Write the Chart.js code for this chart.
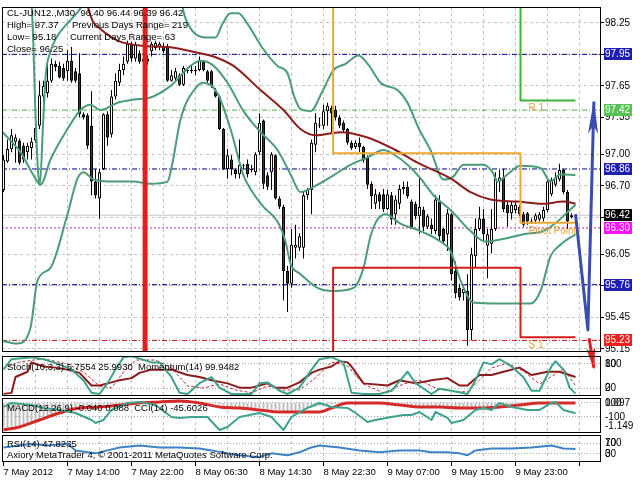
<!DOCTYPE html>
<html>
<head>
<meta charset="utf-8">
<script src="https://cdn.jsdelivr.net/npm/chart.js@4.4.1/dist/chart.umd.min.js"></script>
<style>
html,body{margin:0;padding:0;background:#fff;}
body{width:640px;height:480px;position:relative;overflow:hidden;}
canvas{position:absolute;left:0;}
</style>
</head>
<body>
<canvas id="cMain" width="640" height="372" style="top:0px"></canvas>
<canvas id="cStoch" width="640" height="44" style="top:354px"></canvas>
<canvas id="cMacd" width="640" height="40" style="top:396px"></canvas>
<canvas id="cRsi" width="640" height="47" style="top:433px"></canvas>
<script>
// ---------------- DATA ----------------
const dateLabels = ['7 May 2012','7 May 14:00','7 May 22:00','8 May 06:30','8 May 14:30','8 May 22:30','9 May 07:00','9 May 15:00','9 May 23:00'];
const priceTicks = [98.25, 97.95, 97.65, 97.35, 97.00, 96.70, 96.40, 96.05, 95.75, 95.45, 95.15];

const openP = [96.66,96.93,97.05,97.12,97.13,97.08,97.02,97.06,97.13,97.27,
97.55,97.58,97.70,97.86,97.84,97.82,97.79,97.89,97.79,97.77,
97.38,97.37,97.27,96.74,96.58,96.86,97.38,97.19,97.55,97.68,
97.80,97.88,98.05,97.91,97.96,97.91,97.91,97.98,98.01,98.02,
98.03,98.03,97.70,97.72,97.75,97.66,97.80,97.79,97.80,97.80,
97.88,97.79,97.79,97.60,97.55,97.24,96.86,96.95,96.85,96.81,
96.90,96.91,96.86,96.83,97.02,97.32,96.80,96.83,96.99,96.58,
96.50,95.89,95.77,96.11,96.11,96.11,96.61,96.66,97.09,97.28,
97.27,97.41,97.44,97.42,97.35,97.30,97.24,97.11,97.07,97.11,
97.07,96.97,96.72,96.53,96.62,96.62,96.48,96.61,96.43,96.53,
96.67,96.69,96.55,96.53,96.41,96.47,96.31,96.33,96.27,96.55,
96.29,96.24,96.43,95.89,95.73,95.68,95.70,95.33,96.03,96.29,
96.39,96.13,96.15,96.29,96.74,96.78,96.52,96.44,96.47,96.50,
96.43,96.44,96.37,96.37,96.38,96.39,96.47,96.62,96.71,96.76,
96.85,96.64,96.40];
const highP = [96.99,97.14,97.24,97.19,97.15,97.11,97.11,97.16,97.30,97.70,
97.70,97.86,97.91,97.89,97.88,97.86,97.99,98.02,97.82,97.96,
97.40,97.39,97.60,96.86,96.86,97.39,97.41,97.61,97.77,97.86,
97.93,98.08,98.07,98.07,97.99,97.96,97.94,98.07,98.08,98.07,
98.06,98.05,97.80,97.82,97.77,97.84,97.82,97.84,97.84,97.93,
97.89,97.80,97.80,97.63,97.56,97.25,97.05,96.99,96.86,97.14,
96.91,96.95,96.90,97.02,97.39,97.33,96.83,97.02,97.00,96.60,
96.52,95.94,96.29,96.33,96.25,96.64,96.68,97.14,97.39,97.35,
97.47,97.49,97.46,97.46,97.37,97.32,97.25,97.13,97.13,97.16,
97.08,96.99,96.74,96.67,96.64,96.67,96.66,96.64,96.61,96.71,
96.74,96.74,96.57,96.55,96.78,96.50,96.43,96.39,96.61,96.61,
96.30,96.48,96.44,95.98,95.77,95.73,95.86,96.11,96.39,96.50,
96.48,96.29,96.48,96.83,96.85,96.86,96.55,96.55,96.55,96.52,
96.45,96.45,96.39,96.44,96.45,96.50,96.77,96.78,96.83,96.91,
96.86,96.66,96.44];
const lowP = [96.64,96.92,97.02,96.92,96.90,96.92,96.95,96.95,97.11,97.24,
97.49,97.54,97.68,97.79,97.72,97.70,97.70,97.68,97.68,97.35,
97.33,97.05,96.61,96.58,96.39,96.85,97.08,97.16,97.52,97.65,
97.75,97.86,97.88,97.88,97.86,97.86,97.85,97.93,97.99,97.99,
97.96,97.69,97.69,97.70,97.65,97.65,97.77,97.77,97.75,97.79,
97.79,97.68,97.63,97.54,97.23,96.85,96.77,96.80,96.77,96.77,
96.86,96.78,96.83,96.80,96.99,96.67,96.66,96.66,96.57,96.48,
95.61,95.50,95.73,96.01,96.08,96.01,96.57,96.43,97.02,97.25,
97.24,97.27,97.21,97.32,97.25,97.21,97.09,97.04,97.05,97.02,
96.92,96.67,96.48,96.48,96.48,96.45,96.47,96.33,96.33,96.48,
96.62,96.58,96.29,96.38,96.24,96.27,96.29,96.24,96.24,96.17,
96.15,96.08,95.80,95.63,95.61,95.61,95.18,95.23,95.92,96.27,
96.17,95.82,96.06,96.27,96.64,96.45,96.31,96.38,96.44,96.41,
96.31,96.33,96.34,96.34,96.36,96.36,96.45,96.60,96.69,96.74,
96.62,96.29,96.39];
const closeP = [96.95,97.05,97.18,97.16,96.92,96.95,97.08,97.12,97.25,97.56,
97.65,97.70,97.86,97.83,97.73,97.72,97.89,97.70,97.70,97.38,
97.35,97.08,96.74,96.61,96.83,97.38,97.16,97.55,97.70,97.80,
97.86,98.05,97.91,98.05,97.88,97.88,97.88,98.05,98.06,98.05,
97.98,97.70,97.75,97.79,97.66,97.82,97.79,97.80,97.79,97.89,
97.80,97.70,97.65,97.55,97.24,96.86,96.99,96.86,96.81,96.90,
96.89,96.81,96.85,97.00,97.30,96.72,96.69,97.00,96.58,96.50,
95.89,95.77,96.14,96.14,96.22,96.61,96.66,97.11,97.30,97.27,
97.41,97.46,97.39,97.35,97.27,97.23,97.11,97.06,97.11,97.07,
96.94,96.71,96.60,96.62,96.55,96.48,96.62,96.38,96.57,96.67,
96.69,96.60,96.29,96.41,96.50,96.31,96.41,96.29,96.57,96.22,
96.17,96.44,95.86,95.68,95.64,95.72,95.33,96.05,96.29,96.39,
96.24,96.24,96.29,96.77,96.78,96.48,96.44,96.52,96.52,96.43,
96.33,96.36,96.36,96.42,96.43,96.47,96.74,96.76,96.78,96.85,
96.64,96.36,96.42];

const upIdx = [6.9,7.4,7.9,8.6,9.1,9.9,10.6,11.6,13.4,15.4,17.1,19.1,20.6,32,44.25,45.25,47.25,50.5,53,54.75,56.75,58.75,61,64.75,68.5,71,72.75,74.25,76.75,79.75,82.5,85.5,88.75,91.25,94.25,98.5,101,103.75,106.75,110,112.25,115,120,122.25,123.5,126,129.25,134.25,136.75,139.25,143];
const upVal = [98.52,98.12,97.49,96.86,96.71,97.30,97.77,97.96,98.12,98.22,98.29,98.38,98.48,99.00,98.48,98.32,98.17,98.11,98.11,98.24,98.34,98.34,98.24,98.01,97.84,97.77,97.54,97.43,97.41,97.60,97.80,97.86,97.94,97.85,97.68,97.61,97.49,97.25,97.04,96.76,96.78,96.90,96.90,96.83,96.74,96.81,96.89,96.87,96.74,96.81,96.80];
const midIdx = [-0.75,1.75,4.25,7.5,9.25,11.75,16,19.25,21.75,24.25,28.5,32.5,36.75,41.75,46.75,49.25,52.25,56,60,64.25,68.5,71.75,74.25,78.5,82.5,86.75,91,95,97.5,101,104.25,107.5,111.75,116.75,120.5,124.25,130,135,138.5,141,143];
const midVal = [97.23,97.13,97.02,96.80,96.71,96.95,97.24,97.42,97.47,97.42,97.49,97.52,97.54,97.65,97.84,97.89,97.85,97.68,97.41,97.21,97.04,96.81,96.64,96.71,96.80,96.90,96.97,97.04,97.00,96.90,96.77,96.61,96.47,96.27,96.17,96.19,96.24,96.27,96.36,96.45,96.52];
const lowIdx = [-0.75,3.5,6.75,8.5,11.75,16,18.5,20,22.5,27.5,32.5,36.75,41,42.25,44.25,48.5,50,53.5,56.75,60,61.75,65,68.5,70.5,71.75,74.25,78.5,82.5,87.5,90,91.75,93.5,95.5,99.25,104.25,109.25,111.75,114.25,117.5,124.25,131.75,134.25,136.75,139.25,143];
const lowVal = [95.23,95.20,95.35,95.80,95.92,96.43,96.77,96.83,96.76,96.74,96.74,96.72,96.74,96.92,97.33,97.65,97.68,97.58,97.24,96.80,96.67,96.50,96.36,96.17,95.96,95.86,95.73,95.70,95.73,95.92,96.22,96.38,96.43,96.34,96.27,96.17,96.08,95.80,95.59,95.58,95.58,95.70,96.03,96.14,96.24];
const maIdx = [20,22.25,24.25,28.5,35,41,49.25,52.5,57.5,64.25,70,74.25,78,84.25,91,97.5,103.5,111.75,116.75,121.75,128.5,135,140,143];
const maVal = [98.55,98.27,98.19,98.08,98.03,98.02,97.96,97.93,97.84,97.61,97.42,97.24,97.18,97.21,97.16,97.05,96.92,96.77,96.64,96.57,96.55,96.53,96.55,96.53];

const dayIdx = [-1, 82.4, 129.25, 143];
const pivotVal = [98.90, 97.01, 96.35, 96.35];
const r1Val = [98.90, 98.90, 97.51, 97.51];
const s1Val = [94.80, 95.92, 95.26, 95.26];
const levelVals = [97.95, 97.42, 96.86, 96.42, 96.30, 95.76, 95.23];
const vLineIdx = 35.4;
const zzIdx = [143, 146.1, 147.6];
const zzVal = [96.43, 95.33, 97.50];
const raIdx = [146.4, 147.6];
const raVal = [95.25, 94.97];

const stIdx = [0,2,7,10,14,17,20,22,24,26,28,30,32,37,39,42,44,46,49,52,54,57,59,62,64,66,69,71,74,77,79,82,85,87,90,94,97,101,103,107,109,112,116,118,120,122,124,127,130,132,134,137,138,140,141.5,143];
const stMain = [66,92,97,92,79,66,39,8,5,32,66,97,100,84,84,47,8,5,32,47,21,5,5,5,32,34,13,5,21,66,92,97,84,8,5,5,13,61,32,5,18,13,5,39,84,79,92,74,47,13,13,74,87,66,21,6];
const sgIdx = [0,4,10,16,20,24,27,30,33,38,42,46,50,54,58,62,66,70,74,78,82,86,90,95,100,104,108,112,116,119,122,126,130,134,138,140,143];
const stSig = [70,85,93,80,60,25,20,60,90,90,70,25,20,30,15,8,25,15,15,45,85,75,30,8,30,40,20,12,10,40,70,82,62,30,55,68,26];
const momIdx = [0,2,3,6,7,10,13,16,19,22,24,27,29,32,34,37,42,46,49,52,56,59,62,66,68,71,74,77,79,82,84,86,87,90,96,99,103,107,111,114,116,119,122,125,129,132,136,139,143];
const momVal = [98.60,98.68,99.95,100.37,101.12,100.79,100.70,100.54,100.28,99.27,99.27,99.52,99.69,99.86,100.28,100.54,100.54,100.11,99.95,99.69,99.44,99.10,99.10,99.44,99.10,99.10,99.52,100.28,100.54,100.79,101.21,101.12,100.79,99.44,99.27,99.69,99.44,99.69,99.86,99.27,99.27,100.11,100.11,100.37,100.70,100.11,100.37,100.37,99.95];

const macdHist = [-0.50,-0.49,-0.47,-0.46,-0.44,-0.42,-0.40,-0.38,-0.36,-0.33,-0.30,-0.27,-0.24,-0.21,-0.18,-0.15,-0.12,-0.10,
-0.08,-0.07,-0.06,-0.05,-0.05,-0.04,-0.04,-0.03,-0.03,-0.02,-0.02,-0.01,-0.01,0.00,0.01,0.01,0.02,0.02,
0.03,0.03,0.03,0.04,0.04,0.04,0.03,0.03,0.03,0.03,0.02,0.02,0.02,0.01,0.01,0.00,0.00,-0.01,
-0.03,-0.05,-0.06,-0.07,-0.08,-0.08,-0.09,-0.09,-0.10,-0.10,-0.10,-0.11,-0.12,-0.12,-0.13,-0.14,-0.16,-0.17,
-0.17,-0.16,-0.15,-0.14,-0.12,-0.10,-0.08,-0.06,-0.05,-0.04,-0.03,-0.02,-0.01,0.00,0.00,0.01,0.01,0.01,
0.00,-0.01,-0.02,-0.02,-0.03,-0.03,-0.04,-0.04,-0.05,-0.05,-0.05,-0.06,-0.06,-0.06,-0.07,-0.07,-0.07,-0.08,
-0.08,-0.08,-0.09,-0.09,-0.10,-0.11,-0.12,-0.12,-0.13,-0.12,-0.11,-0.10,-0.09,-0.08,-0.07,-0.06,-0.05,-0.05,
-0.04,-0.04,-0.03,-0.03,-0.03,-0.02,-0.02,-0.02,-0.01,-0.01,0.00,0.00,0.01,0.01,0.00,-0.01,-0.02];
const sigIdx = [0,4,9,14,19,24,29,34,39,44,49,54,59,64,69,74,79,82,86,89,94,99,104,109,114,119,124,129,134,139,143];
const macdSig = [-0.54,-0.48,-0.34,-0.20,-0.10,-0.08,-0.04,0.00,0.02,0.04,0.00,-0.08,-0.10,-0.14,-0.18,-0.18,-0.18,-0.10,0.00,0.00,0.00,-0.04,-0.08,-0.08,-0.10,-0.10,-0.08,-0.04,0.00,0.00,0.00];
const cciIdx = [0,2,7,10,14,18,22,23,25,27,31,34,38,42,44,47,51,54,56,59,64,67,70,72,76,79,82,86,88,91,93,97,100,102,104,107,108,111,112,115,118,120,122,124,127,131,134,137,138,140,143];
const cciVal = [43,100,71,29,0,-43,-143,-186,-143,0,100,114,71,-100,-114,-100,-100,-286,-243,-100,-43,-100,-286,-100,29,100,43,29,-43,-171,-143,-100,-71,-71,-29,-143,-29,-114,-186,-143,0,29,0,100,43,0,0,100,114,0,-46];
const rsiIdx = [0,4,7,11,16,18,21,23,26,29,34,39,44,49,52,56,59,64,67,71,74,77,79,84,89,94,99,104,107,111,114,116,118,122,127,132,137,140,143];
const rsiVal = [54,61,68,61,68,43,36,32,43,54,61,54,54,50,43,32,25,18,32,25,36,54,61,54,43,36,43,43,36,36,32,25,43,50,50,54,61,50,48];

// ---------------- SETUP ----------------
const FONT = '"Liberation Sans", Arial, sans-serif';
Chart.defaults.font.family = FONT;
Chart.defaults.font.size = 10;
Chart.defaults.color = '#000';
Chart.defaults.animation = false;
Chart.defaults.plugins.legend.display = false;
Chart.defaults.plugins.tooltip.enabled = false;

const X_MIN = -0.375, X_MAX = 149.375;
const Y_MIN = 95.12, Y_MAX = 98.40;
const GRID = '#c4c4c4';
const BANDC = '#4c9c7a';
const TEAL = '#3ea38c';
const pts = (ix, vs) => ix.map((x, k) => ({x: x, y: vs[k]}));
const gridIdx = [];
for (let v = 0; v <= 144; v += 8) gridIdx.push(v);
const barIdx = openP.map((_, i) => i);

function xAxis(showLabels) {
  return {
    type: 'linear', min: X_MIN, max: X_MAX, offset: false,
    afterBuildTicks: s => { s.ticks = gridIdx.map(v => ({value: v})); },
    afterFit: s => { s.height = showLabels ? 18 : 0; },
    grid: {
      color: c => (c.tick && c.tick.value === 0) ? 'rgba(0,0,0,0)' : GRID,
      lineWidth: 1, offset: false, drawTicks: showLabels, tickLength: 4,
      tickColor: c => (c.tick && c.tick.value % 16 === 0) ? '#000' : 'rgba(0,0,0,0)',
      tickBorderDash: []
    },
    border: {display: false, dash: [3, 3]},
    ticks: {
      display: showLabels, align: 'start', maxRotation: 0, minRotation: 0, autoSkip: false, padding: 1,
      font: {size: 9.5},
      callback: v => (v % 16 === 0 ? (dateLabels[v / 16] || '') : '')
    }
  };
}

function frame(ctx, a) {
  ctx.strokeStyle = '#000';
  ctx.lineWidth = 1;
  ctx.strokeRect(a.left + 0.5, a.top + 0.5, a.right - a.left - 1, a.bottom - a.top - 1);
}

function arrowHead(ctx, p1, p2, len, half, color) {
  const ang = Math.atan2(p2.y - p1.y, p2.x - p1.x);
  ctx.save();
  ctx.translate(p2.x, p2.y);
  ctx.rotate(ang);
  ctx.beginPath();
  ctx.moveTo(2, 0);
  ctx.lineTo(-len, -half);
  ctx.lineTo(-len * 0.75, 0);
  ctx.lineTo(-len, half);
  ctx.closePath();
  ctx.fillStyle = color;
  ctx.fill();
  ctx.restore();
}

const levelStyle = [
  {c: '#00008b', d: [5, 2, 1, 2], box: '#1e1eb0', tc: '#fff'},
  {c: '#4cae4c', d: [5, 2, 1, 2], box: '#55c455', tc: '#fff'},
  {c: '#00008b', d: [5, 2, 1, 2], box: '#1e1eb0', tc: '#fff'},
  {c: '#c8c8c8', d: [],           box: '#000000', tc: '#fff'},
  {c: '#cc22cc', d: [2, 2],       box: '#ff10ff', tc: '#fff'},
  {c: '#00008b', d: [5, 2, 1, 2], box: '#1e1eb0', tc: '#fff'},
  {c: '#cc1111', d: [5, 2, 1, 2], box: '#ee2020', tc: '#fff'}
];

const mainOverlay = {
  id: 'mainOverlay',
  afterDraw(chart) {
    const ctx = chart.ctx, a = chart.chartArea, xs = chart.scales.x, ys = chart.scales.y;
    ctx.save();
    // arrow heads
    const dsz = chart.data.datasets;
    const zz = dsz.findIndex(d => d._tag === 'zz');
    const ra = dsz.findIndex(d => d._tag === 'ra');
    const mz = chart.getDatasetMeta(zz).data;
    arrowHead(ctx, mz[mz.length - 2], mz[mz.length - 1], 32, 5, '#3a4cb0');
    const mr = chart.getDatasetMeta(ra).data;
    arrowHead(ctx, mr[0], mr[1], 20, 4.5, '#e02020');
    // pivot labels
    ctx.font = '10px ' + FONT;
    ctx.fillStyle = '#e8a23c';
    ctx.textBaseline = 'top';
    ctx.textAlign = 'left';
    const lx = xs.getPixelForValue(dayIdx[2]) + 8;
    ctx.fillText('R 1', lx, ys.getPixelForValue(r1Val[2]) + 3);
    ctx.fillText('Pivot Point', lx, ys.getPixelForValue(pivotVal[2]) + 4);
    ctx.fillText('S 1', lx, ys.getPixelForValue(s1Val[2]) + 3);
    // frame
    frame(ctx, a);
    // price boxes
    ctx.font = '10px ' + FONT;
    ctx.textBaseline = 'middle';
    levelVals.forEach((v, k) => {
      const py = Math.round(ys.getPixelForValue(v));
      ctx.fillStyle = levelStyle[k].box;
      ctx.fillRect(a.right + 3, py - 6, 28, 12);
      ctx.fillStyle = levelStyle[k].tc;
      ctx.fillText(v.toFixed(2), a.right + 4, py + 0.5);
    });
    // legend text
    ctx.fillStyle = '#000';
    ctx.font = '9.5px ' + FONT;
    const L = a.left, T = a.top;
    ctx.fillText('CL-JUN12.,M30  96.40 96.44 96.39 96.42', L + 5, T + 6);
    ctx.fillText('High= 97.37', L + 5, T + 18);
    ctx.fillText('Previous Days Range= 219', L + 70, T + 18);
    ctx.fillText('Low= 95.18', L + 5, T + 30);
    ctx.fillText('Current Days Range= 63', L + 68, T + 30);
    ctx.fillText('Close= 96.25', L + 5, T + 42);
    ctx.restore();
  }
};

function panelOverlay(cfg) {
  return {
    id: 'panelOverlay',
    afterDraw(chart) {
      const ctx = chart.ctx, a = chart.chartArea;
      ctx.save();
      frame(ctx, a);
      ctx.fillStyle = '#000';
      ctx.textBaseline = 'middle';
      ctx.textAlign = 'left';
      ctx.font = '10px ' + FONT;
      cfg.axisLabels.forEach(l => {
        const sc = chart.scales[l.axis];
        ctx.fillText(l.text, a.right + 4, Math.round(sc.getPixelForValue(l.value)) + 0.5);
      });
      ctx.font = '9.5px ' + FONT;
      cfg.texts.forEach(t => ctx.fillText(t.text, a.left + t.dx, a.top + t.dy));
      ctx.restore();
    }
  };
}

const lineBase = {type: 'line', pointRadius: 0, borderJoinStyle: 'round', fill: false};

// ---------------- MAIN ----------------
const mainDatasets = [];
levelVals.forEach((v, k) => {
  mainDatasets.push(Object.assign({}, lineBase, {
    data: [{x: X_MIN, y: v}, {x: X_MAX, y: v}],
    borderColor: levelStyle[k].c, borderWidth: 1, borderDash: levelStyle[k].d, order: 20
  }));
});
mainDatasets.push({
  type: 'bar', data: barIdx.map(i => ({x: i, y: [lowP[i], highP[i]]})),
  backgroundColor: '#000', barThickness: 1, grouped: false, inflateAmount: 0, order: 12
});
mainDatasets.push({
  type: 'bar', data: barIdx.map(i => ({x: i, y: [openP[i], closeP[i]]})),
  backgroundColor: c => (c.raw && c.raw.y && c.raw.y[1] >= c.raw.y[0]) ? '#ffffff' : '#1b4a1b',
  borderColor: '#000', borderWidth: 1, borderSkipped: false, barThickness: 3, minBarLength: 1,
  grouped: false, inflateAmount: 0, order: 11
});
[[upIdx, upVal], [midIdx, midVal], [lowIdx, lowVal]].forEach(b => {
  mainDatasets.push(Object.assign({}, lineBase, {
    data: pts(b[0], b[1]), borderColor: BANDC, borderWidth: 2, cubicInterpolationMode: 'monotone', order: 8
  }));
});
mainDatasets.push(Object.assign({}, lineBase, {
  data: pts(maIdx, maVal), borderColor: '#8e1d1d', borderWidth: 2, cubicInterpolationMode: 'monotone', order: 7
}));
mainDatasets.push(Object.assign({}, lineBase, {data: pts(dayIdx, pivotVal), borderColor: '#f0a834', borderWidth: 2, stepped: true, order: 6}));
mainDatasets.push(Object.assign({}, lineBase, {data: pts(dayIdx, r1Val), borderColor: '#3cb43c', borderWidth: 2, stepped: true, order: 6}));
mainDatasets.push(Object.assign({}, lineBase, {data: pts(dayIdx, s1Val), borderColor: '#d41c1c', borderWidth: 2, stepped: true, order: 6}));
mainDatasets.push(Object.assign({}, lineBase, {
  data: [{x: vLineIdx, y: Y_MIN}, {x: vLineIdx, y: Y_MAX}], borderColor: '#e41e1e', borderWidth: 5, order: 4
}));
mainDatasets.push(Object.assign({}, lineBase, {_tag: 'zz', data: pts(zzIdx, zzVal), borderColor: '#3a4cb0', borderWidth: 3, order: 1}));
mainDatasets.push(Object.assign({}, lineBase, {_tag: 'ra', data: pts(raIdx, raVal), borderColor: '#e02020', borderWidth: 3, clip: false, order: 1}));

new Chart(document.getElementById('cMain'), {
  type: 'bar',
  data: {datasets: mainDatasets},
  options: {
    responsive: false, devicePixelRatio: 1, events: [],
    layout: {padding: {left: 2, top: 3, right: 0, bottom: 20}},
    scales: {
      x: xAxis(false),
      y: {
        type: 'linear', position: 'right', min: Y_MIN, max: Y_MAX,
        afterBuildTicks: s => { s.ticks = priceTicks.map(v => ({value: v})); },
        afterFit: s => { s.width = 39; },
        grid: {color: GRID, drawTicks: true, tickLength: 3, tickColor: '#000', tickBorderDash: []},
        border: {display: false, dash: [3, 3]},
        ticks: {padding: 1, font: {size: 10}, color: '#000', callback: v => Number(v).toFixed(2)}
      }
    }
  },
  plugins: [mainOverlay]
});

// ---------------- STOCH / MOMENTUM ----------------
new Chart(document.getElementById('cStoch'), {
  type: 'line',
  data: {datasets: [
    Object.assign({}, lineBase, {data: pts(momIdx, momVal), yAxisID: 'yMom', borderColor: '#8b1a1a', borderWidth: 2, order: 2}),
    Object.assign({}, lineBase, {data: pts(sgIdx, stSig), yAxisID: 'y', borderColor: '#b03030', borderWidth: 1, borderDash: [3, 2], order: 1}),
    Object.assign({}, lineBase, {data: pts(stIdx, stMain), yAxisID: 'y', borderColor: TEAL, borderWidth: 2, order: 0})
  ]},
  options: {
    responsive: false, devicePixelRatio: 1, events: [],
    layout: {padding: {left: 2, top: 2, right: 0, bottom: 2}},
    scales: {
      x: xAxis(false),
      y: {
        position: 'right', min: 0, max: 100,
        afterBuildTicks: s => { s.ticks = [{value: 20}, {value: 80}]; },
        afterFit: s => { s.width = 39; },
        grid: {color: '#a8a8a8', drawTicks: false},
        border: {display: false, dash: [1, 2]},
        ticks: {display: false}
      },
      yMom: {display: false, min: 98.43, max: 101.63}
    }
  },
  plugins: [panelOverlay({
    axisLabels: [{axis: 'y', value: 80, text: '100'}, {axis: 'y', value: 80, text: '80'},
                 {axis: 'y', value: 20, text: '20'}, {axis: 'y', value: 20, text: '0'}],
    texts: [{text: 'Stoch(10,3,3) 5.7554 25.9930  Momentum(14) 99.9482', dx: 5, dy: 11}]
  })]
});

// ---------------- MACD / CCI ----------------
new Chart(document.getElementById('cMacd'), {
  type: 'bar',
  data: {datasets: [
    {type: 'bar', data: barIdx.map(i => ({x: i, y: macdHist[i]})), yAxisID: 'yMacd',
     backgroundColor: '#bdbdbd', barThickness: 2, grouped: false, inflateAmount: 0, order: 3},
    Object.assign({}, lineBase, {data: pts(sigIdx, macdSig), yAxisID: 'yMacd', borderColor: '#d42a2a', borderWidth: 3, cubicInterpolationMode: 'monotone', order: 2}),
    Object.assign({}, lineBase, {data: pts(cciIdx, cciVal), yAxisID: 'yCci', borderColor: TEAL, borderWidth: 2, order: 1})
  ]},
  options: {
    responsive: false, devicePixelRatio: 1, events: [],
    layout: {padding: {left: 2, top: 2, right: 0, bottom: 3}},
    scales: {
      x: xAxis(false),
      yCci: {
        type: 'linear', position: 'right', min: -329, max: 171,
        afterBuildTicks: s => { s.ticks = [{value: -100}, {value: 100}]; },
        afterFit: s => { s.width = 39; },
        grid: {color: '#a8a8a8', drawTicks: false},
        border: {display: false, dash: [1, 2]},
        ticks: {display: false}
      },
      yMacd: {type: 'linear', display: false, min: -0.60, max: 0.10}
    }
  },
  plugins: [panelOverlay({
    axisLabels: [{axis: 'yCci', value: 100, text: '0.097'}, {axis: 'yCci', value: 100, text: '100'},
                 {axis: 'yCci', value: -100, text: '-100'}, {axis: 'yCci', value: -229, text: '-1.149'}],
    texts: [{text: 'MACD(12,26,9) -0.040 0.088  CCI(14) -45.6026', dx: 5, dy: 10}]
  })]
});

// ---------------- RSI ----------------
new Chart(document.getElementById('cRsi'), {
  type: 'line',
  data: {datasets: [
    Object.assign({}, lineBase, {data: pts(rsiIdx, rsiVal), borderColor: '#3d84c6', borderWidth: 2})
  ]},
  options: {
    responsive: false, devicePixelRatio: 1, events: [],
    layout: {padding: {left: 2, top: 2, right: 0, bottom: 0}},
    scales: {
      x: xAxis(true),
      y: {
        position: 'right', min: 0, max: 100,
        afterBuildTicks: s => { s.ticks = [{value: 30}, {value: 70}]; },
        afterFit: s => { s.width = 39; },
        grid: {color: '#a8a8a8', drawTicks: false},
        border: {display: false, dash: [1, 2]},
        ticks: {display: false}
      }
    }
  },
  plugins: [panelOverlay({
    axisLabels: [{axis: 'y', value: 70, text: '100'}, {axis: 'y', value: 70, text: '70'},
                 {axis: 'y', value: 30, text: '30'}, {axis: 'y', value: 30, text: '0'}],
    texts: [{text: 'RSI(14) 47.8235', dx: 5, dy: 9},
            {text: 'Axiory MetaTrader 4, \u00A9 2001-2011 MetaQuotes Software Corp.', dx: 5, dy: 20}]
  })]
});
</script>
</body>
</html>
